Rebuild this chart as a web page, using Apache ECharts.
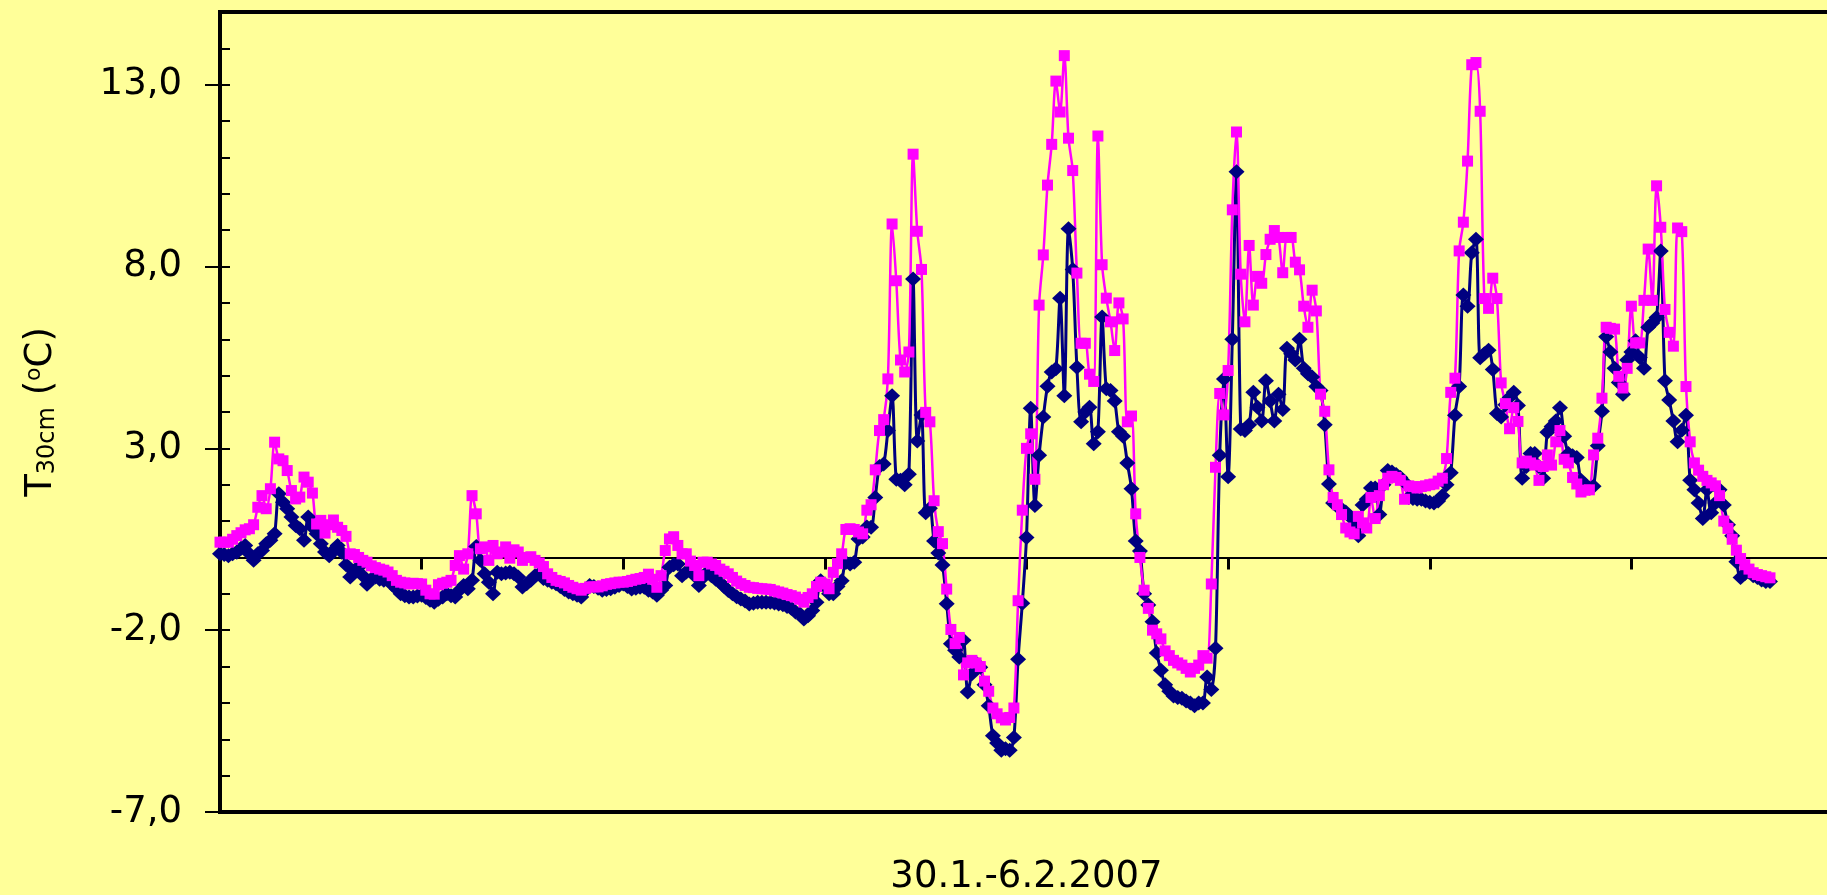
<!DOCTYPE html>
<html>
<head>
<meta charset="utf-8">
<title>T30cm</title>
<script src="https://cdn.jsdelivr.net/npm/echarts@6/dist/echarts.min.js"></script>
<style>
html, body { margin: 0; padding: 0; background: #FFFF99; }
#main { width: 1827px; height: 895px; }
</style>
</head>
<body>
<div id="main"></div>
<script>
// half-hourly readings, 30.1. 00:00 onwards (hours = index * 0.5)
var stepHours = 0.5;

var navyTemps = [
  0.1,0.08,0.05,0.1,0.14,0.25,0.33,0.1,-0.08,0.1,0.19,0.38,
  0.47,0.65,1.75,1.52,1.34,1.11,0.88,0.79,0.47,1.11,0.83,0.65,
  0.38,0.15,0.05,0.19,0.33,0.14,-0.2,-0.54,-0.36,-0.27,-0.5,-0.74,
  -0.6,-0.54,-0.6,-0.63,-0.63,-0.75,-0.86,-1.0,-1.05,-1.09,-1.09,-1.06,
  -1.04,-1.1,-1.18,-1.23,-1.15,-1.09,-1.0,-1.05,-1.09,-0.9,-0.77,-0.86,
  -0.63,0.3,-0.08,-0.45,-0.68,-1.0,-0.41,-0.45,-0.43,-0.41,-0.45,-0.54,
  -0.81,-0.72,-0.63,-0.5,-0.45,-0.58,-0.63,-0.68,-0.72,-0.8,-0.88,-0.95,
  -1.0,-1.04,-1.09,-0.9,-0.77,-0.8,-0.85,-0.9,-0.88,-0.86,-0.82,-0.77,
  -0.73,-0.8,-0.87,-0.85,-0.82,-0.82,-0.9,-0.95,-1.04,-0.9,-0.77,-0.27,
  -0.2,-0.18,-0.5,-0.4,-0.32,-0.5,-0.77,-0.55,-0.41,-0.5,-0.6,-0.68,
  -0.8,-0.91,-1.0,-1.08,-1.14,-1.2,-1.28,-1.26,-1.23,-1.23,-1.23,-1.23,
  -1.25,-1.28,-1.3,-1.35,-1.4,-1.5,-1.55,-1.69,-1.6,-1.46,-1.23,-0.64,
  -0.8,-1.0,-1.0,-0.8,-0.64,-0.14,-0.18,-0.13,0.51,0.56,0.84,0.83,
  1.65,2.5,2.57,3.49,4.45,2.15,2.12,2.0,2.29,7.66,3.2,3.92,
  1.23,1.35,0.45,0.12,-0.21,-1.27,-2.37,-2.55,-2.74,-2.28,-3.7,-3.2,
  -2.9,-3.02,-3.5,-4.08,-4.9,-5.1,-5.3,-5.26,-5.3,-4.95,-2.8,-1.26,
  0.55,4.1,1.43,2.81,3.86,4.71,5.1,5.19,7.13,4.45,9.04,7.92,
  5.23,3.73,4.0,4.13,3.13,3.46,6.61,4.64,4.59,4.3,3.46,3.33,
  2.6,1.89,0.45,0.18,-1.0,-1.31,-1.77,-2.63,-3.1,-3.5,-3.68,-3.81,
  -3.85,-3.87,-3.95,-4.0,-4.08,-4.0,-4.0,-3.29,-3.63,-2.5,2.81,4.91,
  2.22,6.0,10.61,3.53,3.49,3.65,4.54,4.13,3.75,4.86,4.3,3.75,
  4.49,4.07,5.75,5.6,5.43,6.0,5.2,5.05,4.96,4.7,4.59,3.65,
  2.02,1.5,1.4,1.33,1.25,1.12,0.9,0.6,1.44,1.6,1.91,1.91,
  1.18,2.0,2.39,2.35,2.28,2.2,2.07,1.65,1.62,1.6,1.6,1.55,
  1.52,1.5,1.55,1.7,2.0,2.33,3.91,4.7,7.22,6.91,8.38,8.75,
  5.49,5.6,5.7,5.17,3.96,3.86,4.2,4.4,4.54,4.18,2.18,2.5,
  2.86,2.86,2.5,2.18,3.44,3.6,3.75,4.12,3.33,2.86,2.8,2.75,
  2.12,2.0,1.91,1.96,3.07,4.02,6.07,5.65,5.2,4.81,4.49,5.43,
  5.65,5.96,5.5,5.2,6.33,6.45,6.6,8.43,4.86,4.33,3.75,3.18,
  3.5,3.91,2.12,1.86,1.5,1.07,1.86,1.23,1.5,1.86,1.44,0.9,
  0.6,-0.12,-0.55,-0.45,-0.4,-0.5,-0.55,-0.62,-0.66,-0.66
];

var pinkTemps = [
  0.42,0.42,0.42,0.5,0.6,0.68,0.76,0.79,0.9,1.38,1.7,1.34,
  1.89,3.17,2.71,2.66,2.39,1.84,1.61,1.66,2.21,2.07,1.77,0.92,
  1.02,0.67,0.9,1.03,0.83,0.74,0.58,0.1,0.08,0.0,-0.08,-0.13,
  -0.23,-0.28,-0.32,-0.35,-0.4,-0.5,-0.63,-0.68,-0.7,-0.73,-0.71,-0.72,
  -0.73,-0.9,-1.0,-1.01,-0.75,-0.71,-0.68,-0.63,-0.22,0.05,-0.32,0.1,
  1.7,1.2,0.24,0.29,-0.08,0.33,0.1,0.15,0.29,-0.02,0.21,0.15,
  -0.08,0.0,0.02,-0.08,-0.15,-0.25,-0.45,-0.55,-0.63,-0.66,-0.7,-0.77,
  -0.82,-0.86,-0.9,-0.85,-0.81,-0.81,-0.81,-0.78,-0.74,-0.72,-0.7,-0.68,
  -0.68,-0.66,-0.63,-0.6,-0.58,-0.55,-0.46,-0.6,-0.82,-0.5,0.19,0.51,
  0.57,0.33,0.1,0.1,-0.1,-0.22,-0.5,-0.13,-0.13,-0.18,-0.22,-0.32,
  -0.38,-0.45,-0.55,-0.65,-0.72,-0.77,-0.82,-0.83,-0.85,-0.86,-0.87,-0.88,
  -0.92,-0.95,-0.98,-1.02,-1.05,-1.09,-1.15,-1.23,-1.1,-1.0,-0.8,-0.68,
  -0.73,-0.86,-0.41,-0.17,0.1,0.77,0.79,0.77,0.7,0.65,1.3,1.45,
  2.41,3.49,3.79,4.91,9.17,7.61,5.43,5.1,5.65,11.09,8.97,7.92,
  3.99,3.73,1.56,0.71,0.38,-0.87,-1.98,-2.37,-2.2,-3.23,-2.9,-2.83,
  -2.9,-3.0,-3.4,-3.68,-4.14,-4.3,-4.41,-4.47,-4.4,-4.14,-1.19,1.3,
  3.0,3.4,2.15,6.94,8.32,10.24,11.36,13.1,12.25,13.8,11.53,10.64,
  7.82,5.89,5.89,5.04,4.84,11.59,8.05,7.13,6.48,5.69,7.0,6.56,
  3.73,3.89,1.2,0.0,-0.9,-1.4,-2.0,-2.1,-2.24,-2.57,-2.7,-2.83,
  -2.9,-2.96,-3.05,-3.15,-3.05,-2.96,-2.7,-2.77,-0.73,2.48,4.51,3.92,
  5.14,9.56,11.7,7.79,6.48,8.58,6.94,7.73,7.54,8.33,8.75,8.99,
  8.8,7.83,8.8,8.8,8.12,7.91,6.91,6.33,7.35,6.78,4.49,4.02,
  2.41,1.65,1.45,1.18,0.81,0.7,0.65,1.13,0.95,0.81,1.65,1.07,
  1.7,2.0,2.18,2.23,2.2,2.12,1.6,1.97,1.95,1.91,1.95,1.97,
  2.0,2.02,2.1,2.18,2.72,4.54,4.93,8.43,9.22,10.9,13.55,13.61,
  12.27,7.12,6.85,7.68,7.12,4.8,4.23,3.54,4.12,3.74,2.6,2.65,
  2.6,2.54,2.12,2.5,2.82,2.54,3.18,3.49,2.7,2.6,2.2,2.02,
  1.8,1.85,1.86,2.82,3.28,4.38,6.33,6.3,6.28,4.98,4.66,5.2,
  6.91,5.9,5.9,7.07,8.48,7.07,10.22,9.08,6.82,6.19,5.81,9.06,
  8.96,4.7,3.18,2.6,2.4,2.23,2.12,2.05,1.97,1.7,1.0,0.8,
  0.5,0.2,-0.03,-0.2,-0.32,-0.42,-0.47,-0.5,-0.53,-0.56
];

var yMajorTicks = [-7, -2, 3, 8, 13];
var yMinorTicks = [-6,-5,-4,-3,-2,-1,0,1,2,3,4,5,6,7,8,9,10,11,12,13,14];
var xTitle = '30.1.-6.2.2007';

function toPoints(vals) {
  return vals.map(function (v, i) { return [i * stepHours, v]; });
}

var font = '"DejaVu Sans", sans-serif';
var myChart = echarts.init(document.getElementById('main'));

var option = {
  backgroundColor: '#FFFF99',
  animation: false,
  grid: {
    left: 220, top: 12, right: -6, bottom: 83,
    containLabel: false,
    outerBoundsMode: 'none',
    show: true, borderColor: '#000', borderWidth: 4, backgroundColor: 'transparent'
  },
  xAxis: {
    type: 'value', min: 0, max: 192, interval: 24,
    axisLine: { onZero: true, lineStyle: { color: '#000', width: 2 } },
    axisTick: { show: true, inside: false, length: 12, lineStyle: { color: '#000', width: 3 } },
    axisLabel: { show: false },
    splitLine: { show: false },
    name: xTitle,
    nameLocation: 'middle',
    nameGap: 47,
    nameTextStyle: { color: '#000', fontSize: 37, fontFamily: font }
  },
  yAxis: [
    {
      type: 'value', min: -7, max: 15, position: 'left',
      axisLine: { show: false },
      axisTick: { show: true, inside: true, length: 10, customValues: yMinorTicks,
        lineStyle: { color: '#000', width: 2 } },
      axisLabel: { show: false },
      splitLine: { show: false }
    },
    {
      type: 'value', min: -7, max: 15, position: 'left', offset: 0,
      axisLine: { show: false },
      axisTick: { show: true, inside: false, length: 15, customValues: yMajorTicks,
        lineStyle: { color: '#000', width: 2 } },
      axisLabel: {
        customValues: yMajorTicks, margin: 38, color: '#000', fontSize: 37, fontFamily: font,
        formatter: function (v) { return v.toFixed(1).replace('.', ','); }
      },
      splitLine: { show: false },
      name: '{a|T}{b|30cm}{a| (}{c|o}{a|C)}',
      nameLocation: 'middle',
      nameRotate: 90,
      nameGap: 160,
      nameTextStyle: {
        color: '#000', fontFamily: font,
        rich: {
          a: { fontSize: 37, fontFamily: font, color: '#000', verticalAlign: 'bottom' },
          b: { fontSize: 24, fontFamily: font, color: '#000', verticalAlign: 'bottom' },
          c: { fontSize: 22, fontFamily: font, color: '#000', verticalAlign: 'top' }
        }
      }
    }
  ],
  series: [
    {
      name: 'navy', type: 'line', yAxisIndex: 0,
      data: toPoints(navyTemps),
      smooth: 0.3,
      symbol: 'diamond', symbolSize: [16, 15],
      lineStyle: { color: '#000080', width: 3 },
      itemStyle: { color: '#000080' }
    },
    {
      name: 'pink', type: 'line', yAxisIndex: 0,
      data: toPoints(pinkTemps),
      smooth: 0.3,
      symbol: 'rect', symbolSize: 11,
      lineStyle: { color: '#FF00FF', width: 2.5 },
      itemStyle: { color: '#FF00FF' }
    }
  ]
};
// draw
myChart.setOption(option);
</script>
</body>
</html>
